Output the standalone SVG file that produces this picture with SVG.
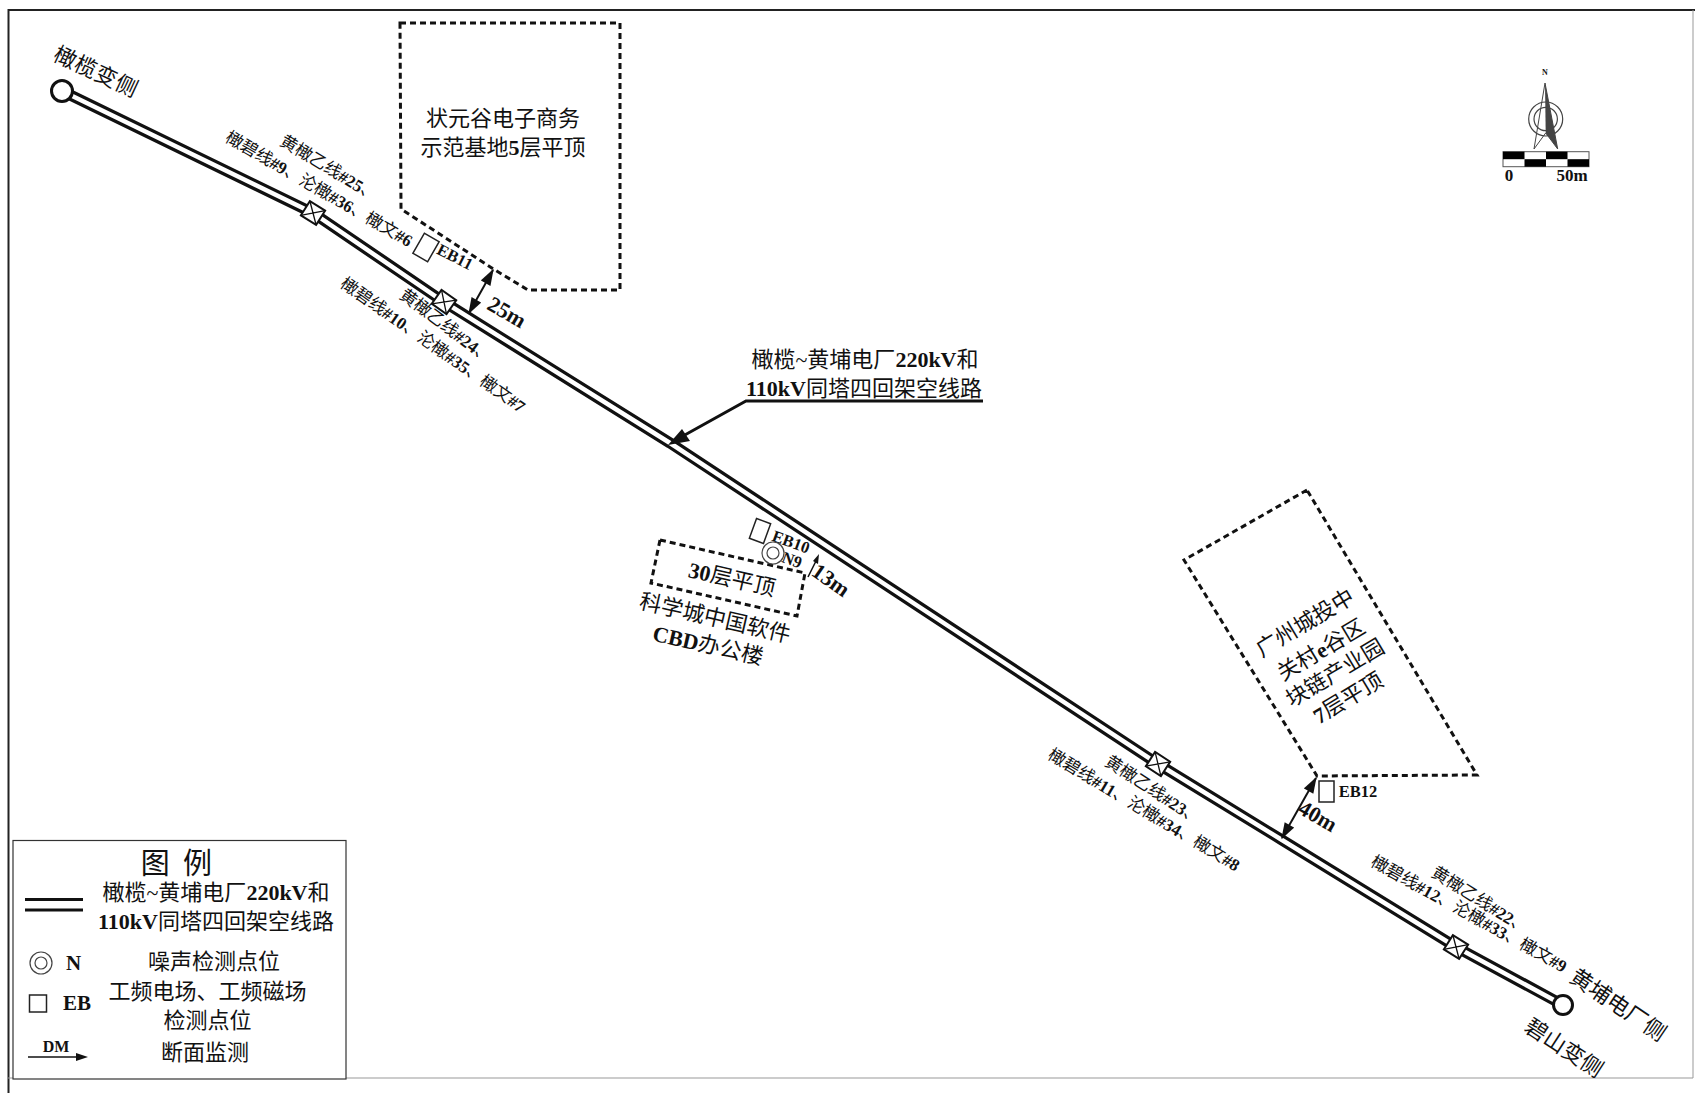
<svg xmlns="http://www.w3.org/2000/svg" width="1695" height="1093" viewBox="0 0 1695 1093">
<style>
text{font-family:"Liberation Serif","Noto Sans CJK SC",serif;fill:#111;text-anchor:middle;dominant-baseline:central}
.b{font-weight:bold}
.s{font-size:17px}
.m{font-size:22px}
.eb{font-size:16.500px;font-weight:bold}
.d{font-size:22px;font-weight:bold}
.dash{fill:none;stroke:#111;stroke-width:3;stroke-dasharray:6 4}
.box{fill:#fff;stroke:#222;stroke-width:1.5}
.ring{fill:none;stroke:#444;stroke-width:1.2}
.arr{fill:none;stroke:#111;stroke-width:2;marker-start:url(#h);marker-end:url(#h)}
</style>
<defs>
<marker id="h" viewBox="0 0 12 8" refX="11" refY="4" markerUnits="userSpaceOnUse" markerWidth="17" markerHeight="11" orient="auto-start-reverse"><path d="M0 0L12 4L0 8Z" fill="#111"/></marker>
<g id="tw"><rect x="-9" y="-8.500" width="18" height="17" fill="#fff" stroke="#111" stroke-width="2"/><path d="M-9-8.500L9 8.500M-9 8.500L9-8.500" stroke="#111" stroke-width="1.300"/></g>
</defs>
<rect width="1695" height="1093" fill="#fff"/>
<g id="frame" fill="none">
<path d="M8.500 1093V10H1695" stroke="#222" stroke-width="2"/>
<path d="M1693 10V1078H8" stroke="#999" stroke-width="1"/>
</g>
<g id="connectors">
<path id="line-outer" d="M62 91L313 213L444 302L670 443L1158 764L1282 840L1456 947L1563 1005" fill="none" stroke="#111" stroke-width="11"/>
<path id="line-inner" d="M62 91L313 213L444 302L670 443L1158 764L1282 840L1456 947L1563 1005" fill="none" stroke="#fff" stroke-width="4.500"/>
<path d="M983 401H746L674 441" fill="none" stroke="#111" stroke-width="3"/>
<path d="M668 445L682 429L690 441Z" fill="#111"/>
<path class="arr" d="M493 270L469 313"/>
<path class="arr" d="M1316 778L1282 838"/>
<path d="M808 577L817 559" stroke="#111" stroke-width="1.500"/>
<path d="M819 554L818 564L813 561Z" fill="#111"/>
</g>
<g id="node-olive-sub"><circle cx="62" cy="91" r="10.500" fill="#fff" stroke="#111" stroke-width="3"/><text class="m" transform="translate(96 72) rotate(25)" letter-spacing="0.500">橄榄变侧</text></g>
<g id="node-bishan-sub"><circle cx="1563" cy="1005" r="9.500" fill="#fff" stroke="#111" stroke-width="3"/><text class="m" transform="translate(1618 1005) rotate(34)">黄埔电厂侧</text><text class="m" transform="translate(1564 1048) rotate(33)">碧山变侧</text></g>
<g id="tower-1"><use href="#tw" transform="translate(313 213) rotate(32)"/><text class="s" transform="translate(329 168) rotate(31)">黄橄乙线<tspan class="b">#25</tspan>、</text><text class="s" transform="translate(319 189) rotate(30)">橄碧线<tspan class="b">#9</tspan>、沦橄<tspan class="b">#36</tspan>、橄文<tspan class="b">#6</tspan></text></g>
<g id="tower-2"><use href="#tw" transform="translate(444 302) rotate(35)"/><text class="s" transform="translate(446 326) rotate(37)">黄橄乙线<tspan class="b">#24</tspan>、</text><text class="s" transform="translate(433 345) rotate(35)">橄碧线<tspan class="b">#10</tspan>、沦橄<tspan class="b">#35</tspan>、橄文<tspan class="b">#7</tspan></text></g>
<g id="tower-3"><use href="#tw" transform="translate(1158 764) rotate(33)"/><text class="s" transform="translate(1153 790) rotate(33)">黄橄乙线<tspan class="b">#23</tspan>、</text><text class="s" transform="translate(1144 810) rotate(31)">橄碧线<tspan class="b">#11</tspan>、沦橄<tspan class="b">#34</tspan>、橄文<tspan class="b">#8</tspan></text></g>
<g id="tower-4"><use href="#tw" transform="translate(1456 947) rotate(32)"/><text class="s" transform="translate(1480 900) rotate(32)">黄橄乙线<tspan class="b">#22</tspan>、</text><text class="s" transform="translate(1469 914) rotate(29)">橄碧线<tspan class="b">#12</tspan>、沦橄<tspan class="b">#33</tspan>、橄文<tspan class="b">#9</tspan></text></g>
<g id="building-zhuangyuangu"><path class="dash" d="M400 23H620V290H528L495 270L401 209Z"/><text class="m" x="503" y="118">状元谷电子商务</text><text class="m" x="503" y="147">示范基地<tspan class="b">5</tspan>层平顶</text></g>
<g id="building-cbd"><path class="dash" d="M660 540L805 573L797 616L651 583Z"/><text class="m" transform="translate(732 579) rotate(13)"><tspan class="b">30</tspan>层平顶</text><text class="m" transform="translate(715 618) rotate(13)">科学城中国软件</text><text class="m" transform="translate(708 645) rotate(13)"><tspan class="b">CBD</tspan>办公楼</text></g>
<g id="building-eguqu"><path class="dash" d="M1307 490L1184 560L1317 776L1477 775Z"/><text class="m" transform="translate(1305 623) rotate(-31)">广州城投中</text><text class="m" transform="translate(1321 650) rotate(-31)">关村<tspan class="b">e</tspan>谷区</text><text class="m" transform="translate(1335 673) rotate(-31)">块链产业园</text><text class="m" transform="translate(1348 698) rotate(-31)"><tspan class="b">7</tspan>层平顶</text></g>
<g id="point-eb11"><rect class="box" x="-8.500" y="-11.500" width="17" height="23" transform="translate(426 247.500) rotate(30)"/><text class="eb" transform="translate(455 257) rotate(27)">EB11</text></g>
<g id="point-eb10"><rect class="box" x="-7.500" y="-10.500" width="15" height="21" transform="translate(760 531) rotate(20)"/><text class="eb" transform="translate(791 542) rotate(20)">EB10</text></g>
<g id="point-n9"><circle class="ring" cx="773" cy="553" r="11"/><circle class="ring" cx="773" cy="553" r="6"/><text class="eb" transform="translate(792 560) rotate(20)">N9</text></g>
<g id="point-eb12"><rect class="box" x="1319" y="781" width="15" height="21"/><text class="eb" x="1358" y="791">EB12</text></g>
<g id="dim-labels"><text class="d" transform="translate(507 312) rotate(30)">25m</text><text class="d" transform="translate(831 580) rotate(35)">13m</text><text class="d" transform="translate(1318 816) rotate(30)">40m</text></g>
<g id="route-label"><text class="m" x="865" y="359">橄榄~黄埔电厂<tspan class="b">220kV</tspan>和</text><text class="m" x="864" y="388"><tspan class="b">110kV</tspan>同塔四回架空线路</text></g>
<g id="compass">
<text x="1545" y="72" style="font-size:8px;font-weight:bold">N</text>
<circle class="ring" cx="1545.700" cy="119" r="17"/><circle class="ring" cx="1545.700" cy="119" r="11.700"/>
<path d="M1545 83L1534 149L1545.700 133L1557.700 149Z" fill="none" stroke="#444" stroke-width="1"/>
<path d="M1545 83L1557.700 149L1545.700 133Z" fill="#444"/>
<rect x="1503" y="151.700" width="86" height="15" fill="#fff" stroke="#555" stroke-width="1"/>
<rect x="1503" y="151.700" width="21.500" height="7.500" fill="#000"/><rect x="1546" y="151.700" width="21.500" height="7.500" fill="#000"/><rect x="1524.500" y="159.200" width="21.500" height="7.500" fill="#000"/><rect x="1567.500" y="159.200" width="21.500" height="7.500" fill="#000"/>
<text x="1509" y="175" style="font-size:17px;font-weight:bold">0</text><text x="1572" y="175" style="font-size:17px;font-weight:bold">50m</text>
</g>
<g id="legend">
<rect x="13" y="840.500" width="333" height="238.500" fill="#fff" stroke="#333" stroke-width="1.200"/>
<text x="178" y="864" style="font-size:29px" letter-spacing="3">图 例</text>
<path d="M25 899.500H83M25 910H83" stroke="#111" stroke-width="3"/>
<text class="m" x="216" y="892">橄榄~黄埔电厂<tspan class="b">220kV</tspan>和</text><text class="m" x="216" y="921"><tspan class="b">110kV</tspan>同塔四回架空线路</text>
<circle class="ring" cx="41" cy="963" r="11"/><circle class="ring" cx="41" cy="963" r="6"/>
<text x="73.500" y="963" style="font-size:21px;font-weight:bold">N</text><text class="m" x="214" y="961">噪声检测点位</text>
<rect class="box" x="29.500" y="995" width="17" height="17"/><text x="77" y="1003" style="font-size:21px;font-weight:bold">EB</text>
<text class="m" x="207.500" y="991">工频电场、工频磁场</text><text class="m" x="207.500" y="1020">检测点位</text>
<text x="56" y="1046" style="font-size:16px;font-weight:bold">DM</text>
<path d="M28 1057H78" stroke="#111" stroke-width="1.300"/><path d="M76 1053L88 1057L76 1061Z" fill="#111"/>
<text class="m" x="205" y="1052">断面监测</text>
</g>
</svg>
